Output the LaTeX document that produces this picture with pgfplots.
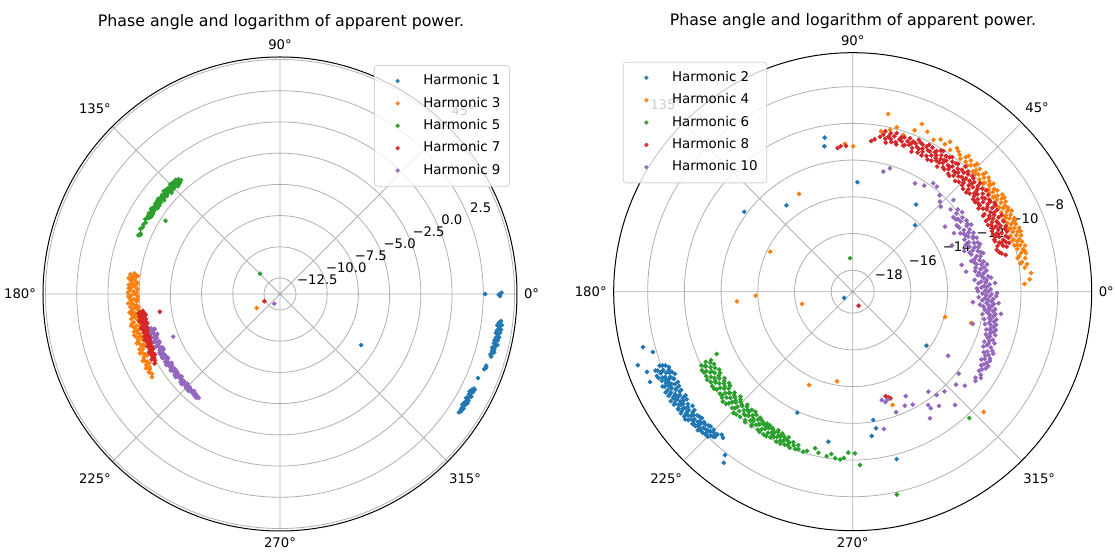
\documentclass[border=0pt]{standalone}
\usepackage{pgfplots}
\usepackage{pgfplotstable}
\pgfplotsset{compat=1.18}
\usepgfplotslibrary{polar}
\usepackage{fontspec}
\setmainfont{DejaVu Sans}

\definecolor{tabblue}{HTML}{1F77B4}
\definecolor{taborange}{HTML}{FF7F0E}
\definecolor{tabgreen}{HTML}{2CA02C}
\definecolor{tabred}{HTML}{D62728}
\definecolor{tabpurple}{HTML}{9467BD}
\definecolor{gridgray}{HTML}{B0B0B0}

% columns: a = phase angle (deg), r = log of apparent power
% ---------- odd harmonics ----------
\pgfplotstableread[row sep=\\]{a r\\
0 2.65\\359.5 3.85\\0.3 3.95\\359.8 3.75\\353 4.05\\352.5 3.9\\352 4.15\\351.5 3.95\\351 4.05\\350.5 3.85\\350 4.1\\349.5 3.95\\349 4.0\\348.5 3.85\\348 4.05\\347.5 3.9\\347 3.8\\346.5 4.0\\346 3.85\\345.5 3.95\\345 3.8\\344.5 3.9\\344 3.75\\343.5 3.85\\340.8 3.7\\340.3 3.75\\339.8 3.65\\337 3.45\\334 3.5\\333.5 3.4\\333 3.55\\332.5 3.45\\332 3.35\\331.5 3.5\\331 3.4\\330.5 3.55\\330 3.45\\329.5 3.35\\329 3.5\\328.5 3.4\\328 3.55\\327.5 3.45\\327 3.5\\326.5 3.4\\327.8 -6.1\\
352.8 4.0\\351.8 3.8\\350.8 4.15\\349.8 3.8\\348.8 4.1\\347.8 3.8\\346.8 4.1\\345.8 3.75\\344.8 4.0\\333.8 3.6\\332.8 3.3\\331.8 3.6\\330.8 3.3\\329.8 3.6\\328.8 3.3\\327.8 3.4\\
}\harmA
\pgfplotstableread[row sep=\\]{a r\\
172 -2.0\\172.5 -1.7\\173 -2.2\\173.5 -1.9\\174 -1.6\\174.5 -2.1\\175 -1.8\\175.5 -2.3\\176 -1.95\\176.5 -1.65\\177 -2.15\\177.5 -1.85\\178 -2.35\\178.5 -1.75\\179 -2.05\\179.5 -1.6\\180 -2.2\\180.5 -1.9\\181 -2.4\\181.5 -1.7\\182 -2.1\\182.5 -1.85\\183 -2.3\\183.5 -1.6\\184 -2.0\\184.5 -2.25\\185 -1.75\\185.5 -2.1\\186 -1.9\\186.5 -2.35\\187 -1.65\\187.5 -2.05\\188 -1.8\\188.5 -2.25\\189 -1.95\\189.5 -1.7\\190 -2.15\\191 -1.85\\191.5 -2.3\\192 -1.6\\192.5 -2.0\\193 -1.8\\194 -2.2\\194.5 -1.7\\195 -1.95\\196 -2.1\\196.5 -1.75\\197 -2.0\\198 -1.85\\198.5 -2.2\\199 -1.65\\200 -1.9\\201 -2.05\\201.5 -1.7\\202 -1.85\\203 -1.6\\204 -1.95\\205 -1.75\\206 -1.55\\207 -1.85\\208 -1.65\\209 -1.5\\210 -1.75\\211 -1.6\\212 -1.7\\213 -1.55\\211 -11.6\\
172.8 -2.3\\174.8 -1.85\\176.3 -2.25\\177.8 -1.65\\179.3 -2.3\\180.8 -1.65\\182.3 -2.35\\183.8 -1.9\\185.3 -2.4\\186.8 -1.8\\188.3 -2.05\\189.8 -2.3\\191.3 -1.7\\192.8 -2.25\\194.3 -1.95\\195.8 -1.65\\197.3 -2.2\\198.8 -1.8\\200.3 -2.15\\201.8 -1.95\\203.3 -1.8\\204.8 -2.05\\206.3 -1.7\\207.8 -1.95\\209.3 -1.8\\210.8 -1.55\\
}\harmC
\pgfplotstableread[row sep=\\]{a r\\
131 -1.7\\131.5 -1.5\\132 -1.8\\132 -1.6\\132.5 -1.4\\133 -1.7\\133 -1.5\\133.5 -1.9\\134 -1.6\\134 -1.4\\134.5 -1.75\\135 -1.55\\135 -1.35\\135.5 -1.8\\136 -1.6\\136.5 -1.45\\137 -1.7\\137 -1.9\\137.5 -1.5\\138 -1.65\\138.5 -1.35\\139 -1.8\\139 -1.55\\139.5 -1.7\\140 -1.45\\140.5 -1.6\\141 -1.85\\141 -1.5\\141.5 -1.65\\142 -1.4\\142.5 -1.75\\143 -1.55\\143.5 -1.7\\144 -1.45\\144.5 -1.6\\145 -1.8\\145.5 -1.5\\146 -1.65\\146.5 -1.4\\147 -1.7\\147.5 -1.55\\148 -1.6\\148.5 -1.45\\149 -1.75\\149.5 -1.5\\150 -1.6\\151 -1.45\\152 -1.6\\153 -1.5\\154 -1.55\\155 -1.45\\156.5 -1.6\\157.5 -1.5\\157 -1.65\\147.4 -2.9\\134.6 -11.5\\
131.8 -1.55\\132.8 -1.85\\133.8 -1.45\\134.8 -1.65\\135.8 -1.5\\136.8 -1.8\\137.8 -1.4\\138.8 -1.7\\139.8 -1.5\\140.8 -1.75\\141.8 -1.55\\142.8 -1.45\\143.8 -1.8\\144.8 -1.55\\145.8 -1.7\\146.8 -1.5\\147.8 -1.75\\148.8 -1.55\\149.8 -1.65\\
}\harmE
\pgfplotstableread[row sep=\\]{a r\\
187 -2.7\\187.5 -2.5\\188 -2.8\\188.5 -2.6\\189 -2.4\\189.5 -2.75\\190 -2.55\\190.5 -2.85\\191 -2.65\\191.5 -2.45\\192 -2.7\\192.5 -2.9\\193 -2.5\\193.5 -2.65\\194 -2.8\\194.5 -2.4\\195 -2.6\\195.5 -2.75\\196 -2.5\\196.5 -2.85\\197 -2.6\\197.5 -2.4\\198 -2.7\\198.5 -2.55\\199 -2.8\\199.5 -2.45\\200 -2.65\\200.5 -2.5\\201 -2.75\\201.5 -2.35\\202 -2.6\\203 -2.45\\203.5 -2.7\\204 -2.3\\205 -2.55\\206 -2.4\\207 -2.25\\208 -2.45\\209 -2.3\\188.4 -4.05\\205 -12.4\\
187.8 -2.35\\188.8 -2.9\\189.8 -2.5\\190.8 -2.3\\191.8 -2.85\\192.8 -2.6\\193.8 -2.35\\194.8 -2.9\\195.8 -2.45\\196.8 -2.7\\197.8 -2.85\\198.8 -2.35\\199.8 -2.7\\200.8 -2.6\\201.8 -2.5\\202.8 -2.75\\203.8 -2.5\\204.8 -2.35\\205.8 -2.65\\206.8 -2.5\\
}\harmG
\pgfplotstableread[row sep=\\]{a r\\
195 -3.1\\196 -3.3\\197 -3.0\\197.5 -3.2\\198.5 -3.35\\199 -3.1\\200 -3.25\\201 -3.05\\201.5 -3.4\\202.5 -3.2\\203 -3.0\\204 -3.3\\205 -3.15\\205.5 -3.45\\206.5 -3.25\\207 -3.05\\208 -3.35\\209 -3.2\\210 -3.4\\210.5 -3.1\\211.5 -3.3\\212.5 -3.5\\213 -3.2\\214 -3.35\\215 -3.1\\215.5 -3.45\\216.5 -3.3\\217.5 -3.15\\218 -3.4\\219 -3.25\\220 -3.5\\220.5 -3.3\\221.5 -3.15\\222 -3.4\\223 -3.25\\224 -3.45\\224.5 -3.2\\225.5 -3.35\\226.5 -3.1\\227 -3.3\\228 -3.2\\228.5 -3.4\\229.5 -3.15\\230 -3.3\\231 -3.1\\231.5 -3.25\\232 -3.2\\201.8 -4.57\\239.6 -12.88\\
195.5 -3.35\\196.5 -3.05\\198 -3.45\\199.5 -3.3\\200.5 -3.0\\202 -3.35\\203.5 -3.2\\204.5 -3.45\\206 -3.05\\207.5 -3.3\\208.5 -3.05\\209.5 -3.45\\211 -3.2\\212 -3.05\\213.5 -3.4\\214.5 -3.2\\216 -3.25\\217 -3.45\\218.5 -3.1\\219.5 -3.4\\221 -3.35\\222.5 -3.1\\223.5 -3.35\\225 -3.15\\226 -3.4\\227.5 -3.25\\229 -3.3\\230.5 -3.2\\
}\harmI
% ---------- even harmonics ----------
\pgfplotstableread[row sep=\\]{a r\\
201 -7.9\\201.5 -8.2\\202 -7.7\\202.5 -8.0\\203 -8.3\\203 -7.8\\203.5 -8.1\\204 -7.6\\204 -8.4\\204.5 -7.95\\205 -8.2\\205 -7.7\\205.5 -8.05\\206 -7.85\\206 -8.35\\206.5 -7.6\\207 -8.1\\207 -7.9\\207.5 -8.25\\208 -7.75\\208 -8.0\\208.5 -8.4\\209 -7.85\\209 -8.15\\209.5 -7.65\\210 -8.0\\210 -8.3\\210.5 -7.8\\211 -8.1\\211 -7.6\\211.5 -7.95\\212 -8.25\\212 -7.75\\212.5 -8.05\\213 -7.85\\213 -8.4\\213.5 -8.1\\214 -7.7\\214.5 -7.95\\215 -8.2\\215 -7.8\\215.5 -8.45\\216 -8.0\\216.5 -7.75\\217 -8.25\\217 -7.95\\217.5 -8.1\\218 -7.8\\218.5 -8.35\\219 -8.0\\219.5 -7.85\\220 -8.15\\220 -8.45\\220.5 -7.9\\221 -8.2\\221.5 -8.0\\222 -8.35\\222.5 -7.95\\223 -8.2\\223.5 -8.5\\224 -8.1\\224.5 -8.3\\225 -8.0\\225.5 -8.4\\226 -8.2\\
201.2 -8.05\\201.8 -7.6\\202.3 -8.35\\202.8 -7.85\\203.3 -7.55\\203.8 -8.25\\204.3 -7.8\\204.8 -8.5\\205.3 -7.9\\205.8 -8.3\\206.3 -8.0\\206.8 -7.7\\207.3 -8.45\\207.8 -7.95\\208.3 -7.6\\208.8 -8.2\\209.3 -7.75\\209.8 -8.4\\210.3 -7.95\\210.8 -8.2\\211.3 -7.85\\211.8 -8.45\\212.3 -7.65\\212.8 -8.2\\213.3 -7.95\\213.8 -7.75\\214.3 -8.3\\214.8 -8.05\\215.3 -7.7\\215.8 -8.15\\216.3 -7.9\\216.8 -8.4\\217.3 -7.7\\217.8 -8.2\\218.3 -7.95\\218.8 -8.1\\219.3 -8.4\\219.8 -7.9\\220.3 -8.25\\220.8 -8.05\\221.3 -8.4\\221.8 -7.85\\222.3 -8.15\\222.8 -8.45\\223.3 -7.95\\223.8 -8.25\\224.3 -8.0\\224.8 -8.5\\225.3 -8.15\\226.5 -8.45\\
194.8 -7.35\\196.8 -7.8\\198.9 -6.8\\201.3 -7.14\\204 -7.08\\232 -7.87\\228.4 -8.52\\226.5 -8.26\\227.5 -8.6\\233 -7.5\\
100.3 -10.64\\101 -11.1\\143.6 -11.83\\127.5 -13.24\\323.8 -14.19\\245.4 -11.92\\260.8 -10.89\\279.1 -12.09\\279.7 -11.62\\277.5 -11.24\\284.7 -9.74\\216 -18.6\\87.5 -13.2\\54 -13.3\\46.8 -14.2\\
}\harmB
\pgfplotstableread[row sep=\\]{a r\\
8 -9.7\\9 -9.55\\10 -9.8\\11 -9.6\\12 -9.9\\12.5 -9.5\\13 -9.75\\14 -9.6\\14.5 -9.9\\15 -9.45\\15.5 -9.7\\16 -10.0\\16.5 -9.55\\17 -9.8\\17.5 -9.65\\18 -9.95\\18.5 -9.5\\19 -9.75\\19.5 -10.05\\20 -9.6\\20.5 -9.85\\21 -9.45\\21.5 -9.7\\22 -10.0\\22.5 -9.55\\23 -9.8\\23.5 -9.65\\24 -9.95\\24.5 -9.5\\25 -9.75\\25.5 -10.1\\26 -9.6\\26.5 -9.85\\27 -9.45\\27.5 -9.7\\28 -10.0\\28.5 -9.55\\29 -9.8\\29.5 -9.65\\30 -9.95\\30.5 -9.5\\31 -9.75\\31.5 -10.05\\32 -9.6\\32.5 -9.85\\33 -9.45\\33.5 -9.7\\34 -9.95\\35 -9.55\\35.5 -9.8\\36 -9.65\\37 -9.9\\37.5 -9.5\\38 -9.75\\39 -9.6\\39.5 -9.85\\40 -9.5\\41 -9.7\\41.5 -9.95\\42 -9.6\\43 -9.8\\44 -9.55\\44.5 -9.75\\45 -9.9\\46 -9.6\\47 -9.75\\48 -9.55\\49 -9.8\\50 -9.6\\52 -9.7\\54 -9.5\\57 -9.43\\58 -9.7\\60 -9.6\\62 -9.8\\65 -9.55\\67.6 -9.29\\69 -9.75\\72.1 -10.2\\75 -9.9\\77 -10.12\\78.7 -9.3\\80 -10.3\\89.8 -11.25\\93 -11.1\\
9.5 -9.9\\11.5 -10.0\\13.5 -9.55\\15.8 -9.85\\17.8 -10.05\\19.8 -9.45\\21.8 -9.9\\23.8 -9.5\\25.8 -9.9\\27.8 -9.6\\29.8 -10.05\\31.8 -9.45\\33.8 -9.85\\35.8 -10.0\\37.8 -9.65\\39.8 -9.95\\41.8 -9.45\\43.8 -9.9\\45.8 -9.45\\47.8 -9.9\\49.5 -9.45\\51 -9.85\\53 -9.6\\55.5 -9.8\\
2.6 -9.8\\4 -9.5\\6 -9.4\\118.8 -13.09\\154.1 -14.18\\184.8 -12.84\\182.4 -13.88\\193.6 -16.33\\245 -13.56\\260.1 -14.21\\344.7 -13.95\\317.4 -9.48\\345.2 -12.5\\289.4 -12.63\\
}\harmD
\pgfplotstableread[row sep=\\]{a r\\
205.5 -10.3\\206 -10.0\\206.5 -10.5\\207 -10.2\\207.5 -9.9\\208 -10.4\\208.5 -10.1\\209 -10.6\\209.5 -10.25\\210 -9.95\\210.5 -10.45\\211 -10.15\\211.5 -10.7\\212 -10.3\\212.5 -10.0\\213 -10.5\\213.5 -10.2\\214 -10.75\\214.5 -10.35\\215 -9.95\\215.5 -10.55\\216 -10.25\\216.5 -10.8\\217 -10.4\\217.5 -10.05\\218 -10.6\\218.5 -10.3\\219 -10.0\\219.5 -10.5\\220 -10.2\\220.5 -10.7\\221 -10.35\\221.5 -9.95\\222 -10.55\\222.5 -10.25\\223 -10.8\\223.5 -10.4\\224 -10.05\\224.5 -10.6\\225 -10.3\\225.5 -9.9\\226 -10.5\\226.5 -10.2\\227 -10.75\\227.5 -10.4\\228 -10.0\\228.5 -10.55\\229 -10.25\\229.5 -10.7\\230 -10.35\\230.5 -9.95\\231 -10.5\\231.5 -10.2\\232 -10.65\\232.5 -10.3\\233 -10.0\\233.5 -10.5\\234 -10.2\\234.5 -10.6\\235 -10.35\\235.5 -10.05\\236 -10.45\\236.5 -10.2\\237 -10.6\\237.5 -10.3\\238 -10.0\\238.5 -10.45\\239 -10.2\\239.5 -10.55\\240 -10.3\\240.5 -10.05\\241 -10.4\\241.5 -10.15\\242 -10.5\\242.5 -10.25\\243 -10.0\\243.5 -10.35\\244 -10.15\\244.5 -10.45\\245 -10.2\\246 -10.05\\246.5 -10.3\\247 -10.1\\248 -10.0\\249 -10.2\\250 -10.05\\251 -10.1\\252.8 -10.04\\254 -10.15\\256.5 -10.4\\258 -10.2\\261 -10.1\\262.5 -10.25\\264 -10.05\\265.7 -10.0\\267 -10.1\\268.4 -10.4\\270.8 -10.36\\272.4 -9.72\\
205.8 -10.6\\206.7 -10.15\\207.6 -10.65\\208.5 -9.95\\209.4 -10.35\\210.3 -10.75\\211.2 -9.9\\212.1 -10.55\\213 -10.25\\213.9 -9.95\\214.8 -10.65\\215.7 -10.05\\216.6 -10.5\\217.5 -10.75\\218.4 -10.1\\219.3 -10.45\\220.2 -9.9\\221.1 -10.6\\222 -10.1\\222.9 -10.45\\223.8 -10.7\\224.7 -10.15\\225.6 -10.55\\226.5 -9.95\\227.4 -10.65\\228.3 -10.25\\229.2 -10.5\\230.1 -10.05\\231 -10.75\\231.9 -10.4\\232.8 -10.1\\233.7 -10.65\\234.6 -10.3\\235.5 -10.55\\236.4 -10.0\\237.3 -10.45\\238.2 -10.6\\239.1 -10.0\\240 -10.5\\240.9 -10.2\\241.8 -10.6\\242.7 -10.35\\243.6 -10.55\\244.5 -10.0\\245.4 -10.35\\246.3 -10.5\\247.2 -10.25\\248.5 -10.35\\250.5 -10.3\\
204.6 -11.02\\282.3 -7.86\\312.7 -9.8\\94.6 -17.34\\
}\harmF
\pgfplotstableread[row sep=\\]{a r\\
17 -10.6\\17.5 -10.9\\18 -10.4\\18.5 -10.75\\19 -10.5\\19.5 -10.95\\20 -10.3\\20.5 -10.65\\21 -10.85\\21.5 -10.45\\22 -10.7\\22.5 -10.2\\23 -10.55\\23.5 -10.9\\24 -10.35\\24.5 -10.6\\25 -10.1\\25.5 -10.8\\26 -10.45\\26.5 -10.7\\27 -10.25\\27.5 -10.55\\28 -10.95\\28.5 -10.4\\29 -10.65\\29.5 -10.15\\30 -10.5\\30.5 -10.85\\31 -10.3\\31.5 -10.6\\32 -10.05\\32.5 -10.75\\33 -10.4\\33.5 -10.95\\34 -10.2\\34.5 -10.55\\35 -10.8\\35.5 -10.1\\36 -10.45\\36.5 -10.7\\37 -10.3\\37.5 -10.9\\38 -10.55\\38.5 -10.15\\39 -10.65\\39.5 -10.35\\40 -10.85\\40.5 -10.05\\41 -10.5\\41.5 -10.75\\42 -10.25\\42.5 -10.6\\43 -10.95\\43.5 -10.4\\44 -10.1\\44.5 -10.7\\45 -10.45\\45.5 -10.2\\46 -10.85\\46.5 -10.55\\47 -10.3\\47.5 -10.65\\48 -10.0\\48.5 -10.5\\49 -10.8\\49.5 -10.35\\50 -10.6\\50.5 -10.15\\51 -10.9\\51.5 -10.45\\52 -10.7\\52.5 -10.25\\53 -10.55\\53.5 -10.05\\54 -10.8\\54.5 -10.4\\55 -10.6\\55.5 -10.2\\56 -10.95\\56.5 -10.5\\57 -10.3\\57.5 -10.7\\58 -10.1\\58.5 -10.45\\59 -10.85\\59.5 -10.35\\60 -10.6\\61 -10.2\\61.5 -10.75\\62 -10.45\\63 -10.3\\63.5 -10.65\\64 -10.5\\65 -10.8\\65.5 -10.25\\66 -10.55\\67 -10.4\\67.5 -10.7\\68 -10.35\\69 -10.6\\70 -10.45\\71 -10.75\\71.5 -10.3\\72 -10.55\\73 -10.5\\74 -10.7\\75 -10.4\\76 -10.6\\77 -10.5\\78 -10.65\\79 -10.45\\
17.3 -10.25\\18.2 -10.65\\19.1 -10.2\\20.2 -10.95\\21.3 -10.15\\22.2 -10.9\\23.2 -10.1\\24.2 -10.8\\25.2 -10.4\\26.2 -10.95\\27.2 -10.05\\28.2 -10.75\\29.2 -10.35\\30.2 -10.95\\31.2 -10.1\\32.2 -10.5\\33.2 -10.2\\34.2 -10.8\\35.2 -10.35\\36.2 -10.9\\37.2 -10.05\\38.2 -10.75\\39.2 -10.45\\40.2 -10.25\\41.2 -10.95\\42.2 -10.4\\43.2 -10.15\\44.2 -10.85\\45.2 -10.6\\46.2 -10.1\\47.2 -10.95\\48.2 -10.25\\49.2 -10.6\\50.2 -10.95\\51.2 -10.2\\52.2 -10.55\\53.2 -10.85\\54.2 -10.15\\55.2 -10.45\\56.2 -10.7\\57.2 -10.05\\58.2 -10.6\\59.2 -10.25\\60.5 -10.9\\61.2 -10.45\\62.5 -10.15\\63.2 -10.85\\64.5 -10.3\\65.2 -10.6\\66.5 -10.15\\67.2 -10.9\\68.5 -10.5\\69.5 -10.25\\70.5 -10.7\\72.5 -10.35\\73.5 -10.8\\74.5 -10.2\\75.5 -10.75\\76.5 -10.3\\77.5 -10.85\\78.5 -10.25\\80 -10.6\\
81.8 -10.78\\83 -10.9\\92.6 -11.22\\94.7 -11.22\\96 -11.3\\16.3 -10.43\\14.4 -10.79\\15 -10.9\\13.5 -10.6\\16.2 -11.0\\293 -18.34\\288.6 -13.1\\289.5 -13.0\\287.5 -13.2\\
}\harmH
\pgfplotstableread[row sep=\\]{a r\\
75.7 -12.42\\73.2 -12.15\\60.1 -12.36\\53.4 -11.81\\51.3 -11.84\\45.9 -12.34\\42.3 -11.75\\35.2 -13.02\\13.8 -13.06\\56 -12.2\\48 -12.1\\44 -12.5\\40 -12.2\\38 -11.9\\
37 -12.1\\36 -11.8\\35 -12.3\\34 -11.95\\33 -12.15\\32 -11.85\\31 -12.4\\30 -12.0\\29.5 -11.75\\29 -12.25\\28 -11.95\\27.5 -12.35\\27 -12.1\\26 -11.85\\25.5 -12.2\\25 -12.45\\24 -12.0\\23.5 -11.8\\23 -12.3\\22 -12.05\\21.5 -11.85\\21 -12.35\\20 -12.1\\19.5 -11.9\\19 -12.25\\18 -12.0\\17.5 -12.4\\17 -11.85\\16 -12.15\\15.5 -11.95\\15 -12.3\\14 -12.05\\13 -11.85\\12.5 -12.25\\12 -12.0\\11 -12.35\\10.5 -11.9\\10 -12.1\\9 -11.8\\8.5 -12.2\\8 -11.95\\7 -12.1\\6.5 -11.75\\6 -12.0\\5 -11.85\\4.5 -12.15\\4 -11.9\\3 -11.7\\2.5 -12.0\\2 -11.85\\1 -11.65\\0.5 -11.95\\0 -11.8\\
5.5 -12.5\\3.5 -11.4\\1.5 -12.4\\359.5 -11.3\\357.5 -12.3\\355.5 -11.2\\353.5 -12.0\\351.5 -11.0\\
359 -11.6\\358.5 -11.9\\358 -11.7\\357 -11.5\\356.5 -11.8\\356 -11.6\\355 -11.45\\354.5 -11.75\\354 -11.55\\353 -11.35\\352.5 -11.65\\352 -11.45\\351 -11.3\\350.5 -11.6\\350 -11.4\\349 -11.2\\348.5 -11.5\\348 -11.3\\347 -11.15\\346.5 -11.45\\346 -11.25\\345 -11.1\\344.5 -11.4\\344 -11.2\\343 -11.05\\342 -11.3\\341 -11.1\\340 -10.95\\339 -11.25\\338 -11.05\\337 -10.9\\336 -11.15\\335 -11.0\\334 -10.85\\333 -11.1\\332 -10.9\\331 -11.0\\330 -10.8\\329 -10.95\\328 -11.05\\327 -10.85\\326 -10.75\\325 -11.0\\324 -10.9\\
36.5 -12.35\\34.5 -12.2\\32.5 -12.45\\30.5 -11.9\\28.5 -12.5\\26.5 -12.3\\24.5 -11.95\\22.5 -12.5\\20.5 -11.75\\18.5 -12.45\\16.5 -11.75\\14.5 -12.5\\13.5 -12.35\\11.5 -11.7\\9.5 -12.4\\7.5 -12.3\\5.8 -11.6\\3.8 -12.3\\1.8 -12.15\\0.2 -12.35\\359.2 -12.1\\358.2 -11.35\\357.2 -11.95\\356.2 -12.1\\355.2 -11.85\\354.2 -12.2\\353.2 -11.7\\352.2 -11.9\\351.2 -11.75\\350.2 -12.0\\349.2 -11.6\\348.2 -11.85\\347.2 -11.55\\346.2 -11.75\\345.2 -11.4\\344.2 -11.6\\343.2 -11.35\\342.2 -11.55\\341.2 -11.4\\340.2 -11.25\\339.2 -11.5\\338.2 -11.3\\337.2 -11.45\\336.2 -10.8\\335.2 -11.3\\334.2 -11.15\\333.2 -10.8\\332.2 -11.25\\331.2 -10.75\\330.2 -11.1\\
326.1 -12.91\\322.3 -11.87\\312.6 -11.79\\307.1 -11.37\\303.7 -11.75\\312.1 -10.85\\301.4 -11.09\\294.6 -12.34\\285 -13.06\\296.9 -12.79\\289.8 -12.19\\282.8 -11.5\\303.8 -11.53\\307.1 -12.34\\309.1 -11.92\\286.5 -12.9\\288 -13.0\\298 -12.2\\318 -11.6\\320 -11.2\\10 -12.9\\20 -12.7\\30 -12.8\\25 -13.2\\355 -12.6\\345 -12.4\\
}\harmJ

\pgfplotsset{
  harmonics/.style={
    scale only axis, width=#1, height=#1,
    xmin=0, xmax=360, ymin=0,
    xtick={0,45,...,315},
    xticklabel={\pgfmathprintnumber{\tick}°},
    /pgf/number format/assume math mode=true,
    yticklabels={},
    major tick length=0pt,
    xmajorgrids=true, ymajorgrids=true,
    major grid style={draw=gridgray, line width=0.4pt},
    separate axis lines,
    x axis line style={black, line width=0.5pt},
    y axis line style={draw=none},
    tick label style={font=\fontsize{6.6}{7.6}\selectfont},
    legend cell align=left,
    legend style={font=\fontsize{6.7}{7.7}\selectfont, draw=gray!35,
      rounded corners=1.5pt, fill=white, fill opacity=0.8, text opacity=1,
      row sep=0.6pt, inner sep=2.5pt},
    legend image code/.code={%
      \path[draw=none,fill=none] (0cm,-1pt) rectangle (0.7cm,1pt);
      \fill[##1] (0.32cm,0cm) circle[radius=0.85pt];},
  },
  dots/.style={only marks, mark=*, mark size=0.95pt, color=#1},
}
\tikzset{
  rlabel/.style={anchor=south west, inner sep=0pt, xshift=1pt, yshift=1.5pt,
    font=\fontsize{6.6}{7.6}\selectfont},
}

\begin{document}
\begin{tikzpicture}
\useasboundingbox (0,0) rectangle (557.5pt,277.5pt);

\node[anchor=base, font=\fontsize{7.9}{9}\selectfont] at (140.5pt,264.3pt)
  {Phase angle and logarithm of apparent power.};
\node[anchor=base, font=\fontsize{7.9}{9}\selectfont] at (426.5pt,264.8pt)
  {Phase angle and logarithm of apparent power.};

% odd harmonics, radius axis from -13.78 to 5.2
\begin{polaraxis}[harmonics=237pt,
  at={(140pt,130.5pt)}, anchor=origin,
  ymax=18.98,
  ytick={1.28,3.78,6.28,8.78,11.28,13.78,16.28,18.78},
  legend style={at={(axis description cs:0.985,0.983)}, anchor=north east},
]
\node[rlabel] at (axis cs:22.5,1.28) {−12.5};
\node[rlabel] at (axis cs:22.5,3.78) {−10.0};
\node[rlabel] at (axis cs:22.5,6.28) {−7.5};
\node[rlabel] at (axis cs:22.5,8.78) {−5.0};
\node[rlabel] at (axis cs:22.5,11.28) {−2.5};
\node[rlabel] at (axis cs:22.5,13.78) {0.0};
\node[rlabel] at (axis cs:22.5,16.28) {2.5};
\node[rlabel] at (axis cs:22.5,18.78) {5.0};
\addplot[dots=tabblue] table[x=a, y expr=\thisrow{r}+13.78] {\harmA};
\addlegendentry{Harmonic 1}
\addplot[dots=taborange] table[x=a, y expr=\thisrow{r}+13.78] {\harmC};
\addlegendentry{Harmonic 3}
\addplot[dots=tabgreen] table[x=a, y expr=\thisrow{r}+13.78] {\harmE};
\addlegendentry{Harmonic 5}
\addplot[dots=tabred] table[x=a, y expr=\thisrow{r}+13.78] {\harmG};
\addlegendentry{Harmonic 7}
\addplot[dots=tabpurple] table[x=a, y expr=\thisrow{r}+13.78] {\harmI};
\addlegendentry{Harmonic 9}
\end{polaraxis}

% even harmonics, radius axis from -19.17 to -6.15
\begin{polaraxis}[harmonics=239pt,
  at={(426.35pt,131.65pt)}, anchor=origin,
  ymax=13.02,
  ytick={1.17,3.17,5.17,7.17,9.17,11.17},
  legend style={at={(axis description cs:0.019,0.981)}, anchor=north west},
]
\node[rlabel] at (axis cs:22.5,1.17) {−18};
\node[rlabel] at (axis cs:22.5,3.17) {−16};
\node[rlabel] at (axis cs:22.5,5.17) {−14};
\node[rlabel] at (axis cs:22.5,7.17) {−12};
\node[rlabel] at (axis cs:22.5,9.17) {−10};
\node[rlabel] at (axis cs:22.5,11.17) {−8};
\addplot[dots=tabblue] table[x=a, y expr=\thisrow{r}+19.17] {\harmB};
\addlegendentry{Harmonic 2}
\addplot[dots=taborange] table[x=a, y expr=\thisrow{r}+19.17] {\harmD};
\addlegendentry{Harmonic 4}
\addplot[dots=tabgreen] table[x=a, y expr=\thisrow{r}+19.17] {\harmF};
\addlegendentry{Harmonic 6}
\addplot[dots=tabred] table[x=a, y expr=\thisrow{r}+19.17] {\harmH};
\addlegendentry{Harmonic 8}
\addplot[dots=tabpurple] table[x=a, y expr=\thisrow{r}+19.17] {\harmJ};
\addlegendentry{Harmonic 10}
\end{polaraxis}
\end{tikzpicture}
\end{document}
